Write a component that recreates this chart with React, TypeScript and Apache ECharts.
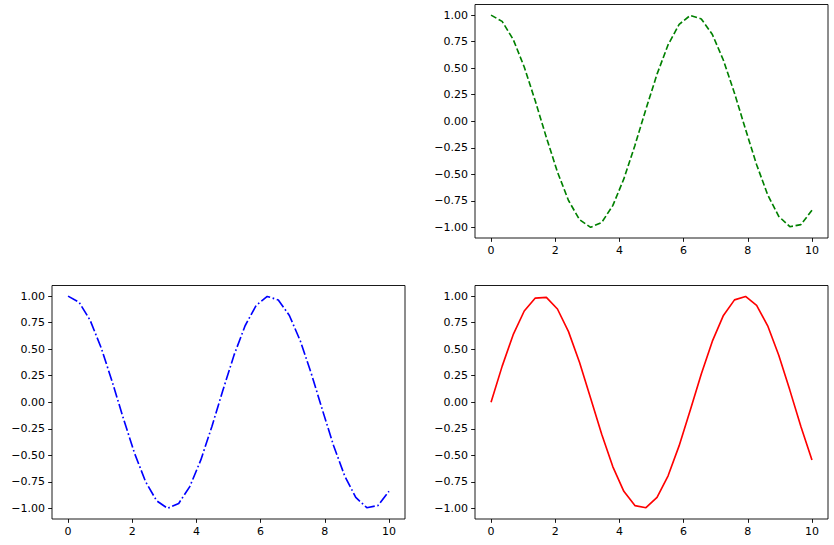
import React, { useEffect, useRef } from "react";
import * as echarts from "echarts";

const xValues = [0, 0.3448, 0.6897, 1.0345, 1.3793, 1.7241, 2.069, 2.4138, 2.7586, 3.1034, 3.4483, 3.7931, 4.1379, 4.4828, 4.8276, 5.1724, 5.5172, 5.8621, 6.2069, 6.5517, 6.8966, 7.2414, 7.5862, 7.931, 8.2759, 8.6207, 8.9655, 9.3103, 9.6552, 10];
const cosValues = [1, 0.9412, 0.7715, 0.511, 0.1903, -0.1527, -0.4778, -0.7466, -0.9276, -0.9993, -0.9533, -0.7952, -0.5434, -0.2276, 0.1149, 0.444, 0.7207, 0.9127, 0.9971, 0.9642, 0.8177, 0.575, 0.2646, -0.0769, -0.4095, -0.6937, -0.8964, -0.9935, -0.9736, -0.8391];
const sinValues = [0, 0.338, 0.6363, 0.8596, 0.9817, 0.9883, 0.8785, 0.6653, 0.3737, 0.0382, -0.3017, -0.6063, -0.8394, -0.9738, -0.9934, -0.896, -0.6932, -0.4088, -0.0762, 0.2653, 0.5757, 0.818, 0.9644, 0.997, 0.9123, 0.7201, 0.4432, 0.1143, -0.2283, -0.544];
const xTicks = [0, 2, 4, 6, 8, 10];
const yTicks = [-1, -0.75, -0.5, -0.25, 0, 0.25, 0.5, 0.75, 1];

const fmtY = (v: number) => {
  const s = Math.abs(v).toFixed(2);
  return v < 0 ? "\u2212" + s : s;
};
const fmtX = (v: number) => (v < 0 ? "\u2212" + Math.abs(v) : String(v));

export default function App() {
  const ref = useRef<HTMLDivElement>(null);
  useEffect(() => {
    if (!ref.current) return;
    const chart = echarts.init(ref.current, null, { renderer: "svg" });
    const grids = [
      { left: 475, top: 4.5, width: 353, height: 233.5 },
      { left: 52, top: 285.5, width: 353, height: 233.5 },
      { left: 475, top: 285.5, width: 353, height: 233.5 },
    ].map((g) => ({ ...g, show: true, borderColor: "#000", borderWidth: 0.9, backgroundColor: "transparent", containLabel: false }));
    const labelStyle = { color: "#000", fontFamily: "DejaVu Sans", fontSize: 11 };
    const tickStyle = { show: true, length: 3.85, inside: false, lineStyle: { color: "#000", width: 0.9 } };
    const xAxis = grids.map((_, i) => ({
      type: "value",
      gridIndex: i,
      min: -0.5,
      max: 10.5,
      axisLine: { show: false, onZero: false },
      splitLine: { show: false },
      axisTick: { ...tickStyle, customValues: xTicks },
      axisLabel: { ...labelStyle, margin: 7, customValues: xTicks, formatter: fmtX },
    }));
    const yAxis = grids.map((_, i) => ({
      type: "value",
      gridIndex: i,
      min: -1.1,
      max: 1.1,
      axisLine: { show: false, onZero: false },
      splitLine: { show: false },
      axisTick: { ...tickStyle, customValues: yTicks },
      axisLabel: { ...labelStyle, margin: 7, customValues: yTicks, formatter: fmtY },
    }));
    const pairs = (ys: number[]) => xValues.map((x, i) => [x, ys[i]]);
    chart.setOption({
      animation: false,
      grid: grids,
      xAxis,
      yAxis,
      series: [
        {
          type: "line", xAxisIndex: 0, yAxisIndex: 0, data: pairs(cosValues), showSymbol: false,
          lineStyle: { color: "#008000", width: 1.65, type: [6.1, 2.64] },
        },
        {
          type: "line", xAxisIndex: 1, yAxisIndex: 1, data: pairs(cosValues), showSymbol: false,
          lineStyle: { color: "#0000ff", width: 1.65, type: [10.56, 2.64, 1.65, 2.64] },
        },
        {
          type: "line", xAxisIndex: 2, yAxisIndex: 2, data: pairs(sinValues), showSymbol: false,
          lineStyle: { color: "#ff0000", width: 1.65 },
        },
      ],
    });
    return () => chart.dispose();
  }, []);
  return <div ref={ref} style={{ position: "absolute", left: 0, top: 0, width: 834, height: 545, background: "#fff" }} />;
}
